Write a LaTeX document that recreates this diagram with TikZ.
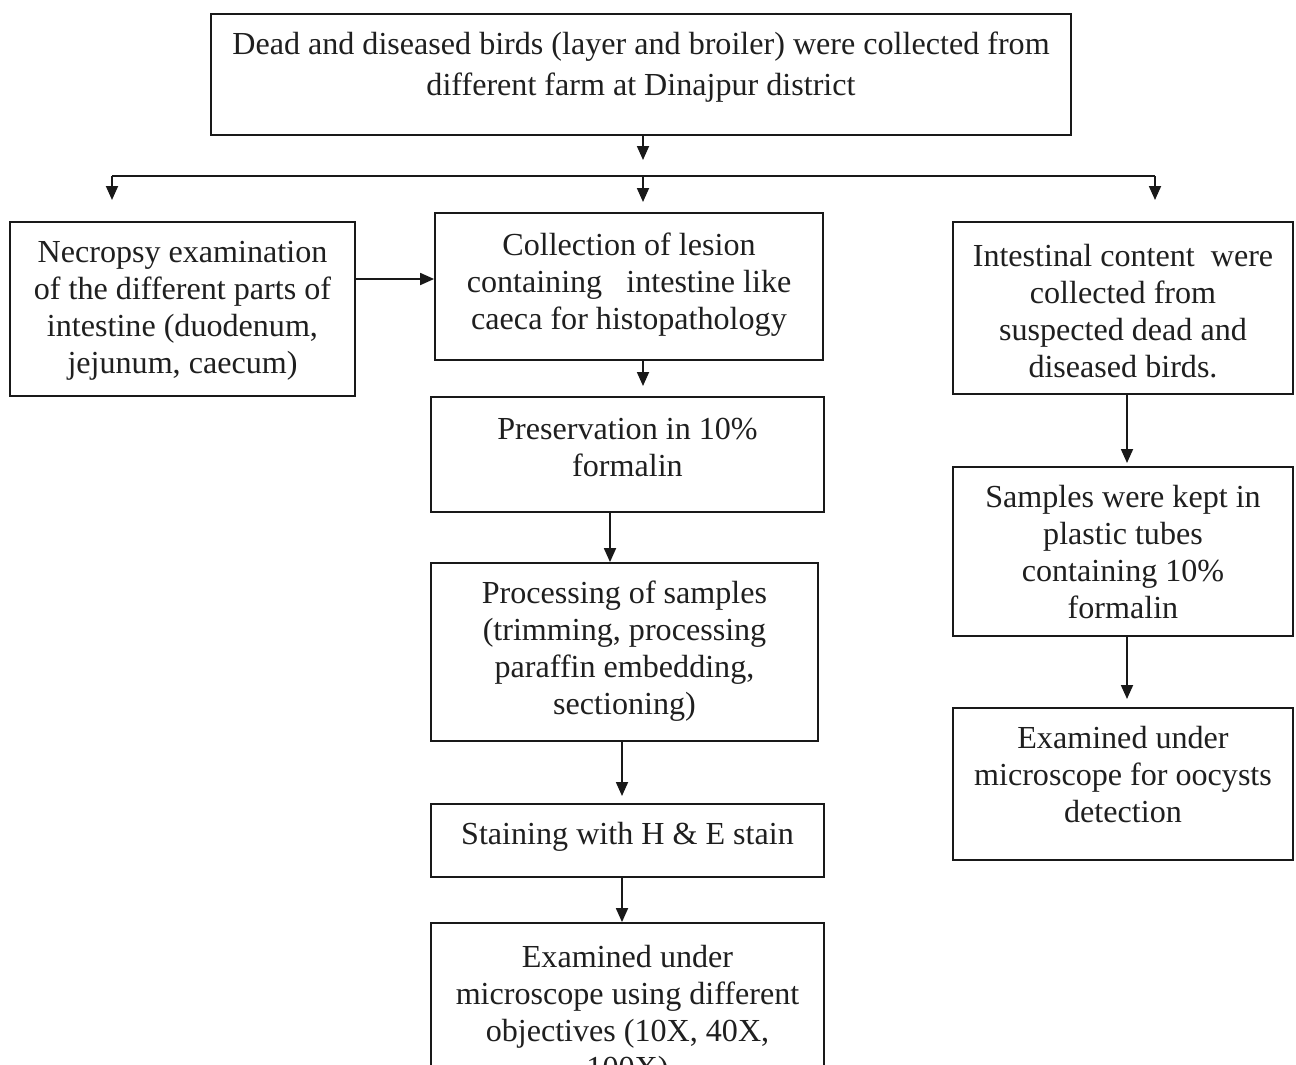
\documentclass[tikz,border=0pt]{standalone}
\usepackage{fontspec}
\setmainfont{Liberation Serif}
\usetikzlibrary{arrows.meta}
\begin{document}
\begin{tikzpicture}[x=1pt,y=-1pt,
  box/.style={draw=black!90, line width=1.8pt, inner sep=0pt},
  txt/.style={align=center, inner sep=0pt, font=\fontsize{32.1}{37}\selectfont, text=black!88},
  conn/.style={draw=black!90, line width=1.8pt},
  arr/.style={conn, -{Triangle[length=14pt,width=12pt]}}]
\useasboundingbox (0,0) rectangle (1296,1065);
\fill[white] (0,0) rectangle (1296,1065);
\clip (0,0) rectangle (1296,1065);

\node[box, minimum width=860pt, minimum height=121pt] (top) at (641,74.5) {};
\node[txt, font=\fontsize{32.1}{41}\selectfont] (topT) at (641,67)
  {Dead and diseased birds (layer and broiler) were collected from\\different farm at Dinajpur district};

\node[box, minimum width=345pt, minimum height=174pt] (necro) at (182.5,309) {};
\node[txt] (necroT) at (182.5,311)
  {Necropsy examination\\of the different parts of\\intestine (duodenum,\\jejunum, caecum)};

\node[box, minimum width=388pt, minimum height=147pt] (coll) at (629,286.5) {};
\node[txt] (collT) at (629,284.5)
  {Collection of lesion\\containing\ \ \ intestine like\\caeca for histopathology};

\node[box, minimum width=340pt, minimum height=172pt] (intes) at (1123,308) {};
\node[txt] (intesT) at (1123,311)
  {Intestinal content\ \ were\\collected from\\suspected dead and\\diseased birds.};

\node[box, minimum width=393pt, minimum height=115pt] (pres) at (627.5,454.5) {};
\node[txt] (presT) at (627.5,447)
  {Preservation in 10\%\\formalin};

\node[box, minimum width=387pt, minimum height=178pt] (proc) at (624.5,652) {};
\node[txt] (procT) at (624.5,651)
  {Processing of samples\\(trimming, processing\\paraffin embedding,\\sectioning)};

\node[box, minimum width=393pt, minimum height=73pt] (stain) at (627.5,840.5) {};
\node[txt] (stainT) at (627.5,837)
  {Staining with H \& E stain};

\node[box, minimum width=393pt, minimum height=170pt] (exam1) at (627.5,1008) {};
\node[txt] (exam1T) at (627.5,1015)
  {Examined under\\microscope using different\\objectives (10X, 40X,\\100X)};

\node[box, minimum width=340pt, minimum height=169pt] (samp) at (1123,551.5) {};
\node[txt] (sampT) at (1123,552)
  {Samples were kept in\\plastic tubes\\containing 10\%\\formalin};

\node[box, minimum width=340pt, minimum height=152pt] (exam2) at (1123,784) {};
\node[txt] (exam2T) at (1123,775)
  {Examined under\\microscope for oocysts\\detection};

\coordinate (t1) at (643,160);
\coordinate (hl) at (112,176);
\coordinate (hm) at (643,176);
\coordinate (hr) at (1155,176);
\coordinate (dl) at (112,200);
\coordinate (dm) at (643,202);
\coordinate (dr) at (1155,200);
\coordinate (c1) at (643,386);
\coordinate (p1) at (622,796);
\coordinate (s1) at (1127,463);
\coordinate (s2) at (1127,699);

\draw[arr] (top.south -| t1) -- (t1);
\draw[conn] (hl) -- (hr);
\draw[arr] (hl) -- (dl);
\draw[arr] (hm) -- (dm);
\draw[arr] (hr) -- (dr);
\draw[arr] (necro.east |- 0,279) -- (coll.west |- 0,279);
\draw[arr] (coll.south -| c1) -- (c1);
\draw[arr] (pres.south -| 610,0) -- (proc.north -| 610,0);
\draw[arr] (proc.south -| p1) -- (p1);
\draw[arr] (stain.south -| 622,0) -- (exam1.north -| 622,0);
\draw[arr] (intes.south -| s1) -- (s1);
\draw[arr] (samp.south -| s2) -- (s2);
\end{tikzpicture}
\end{document}
